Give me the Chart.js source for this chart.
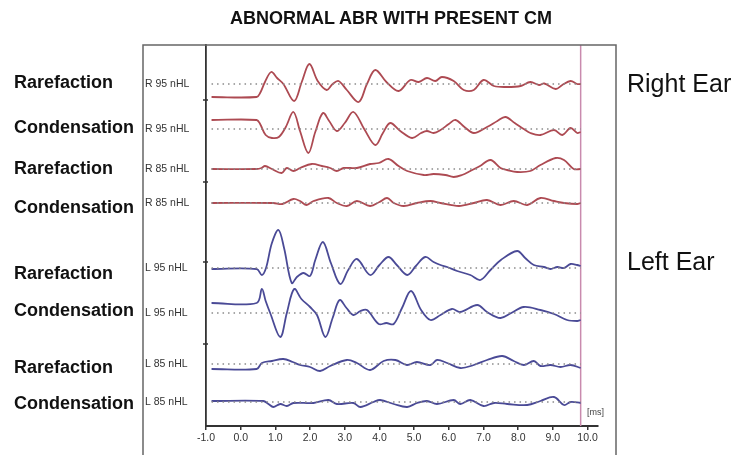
<!DOCTYPE html>
<html>
<head>
<meta charset="utf-8">
<script src="https://cdn.jsdelivr.net/npm/chart.js@4.4.0/dist/chart.umd.min.js"></script>
<style>
body { margin: 0; background: #fff; }
#wrap { position: relative; width: 753px; height: 455px; font-family: 'Liberation Sans', Arial, sans-serif; }
#abr { position: absolute; left: 0; top: 0; }
.txt { position: absolute; white-space: nowrap; color: #111; }
.side { left: 14px; font-size: 18px; font-weight: bold; line-height: 20px; }
.ear { left: 627px; font-size: 25px; line-height: 28px; }
</style>
</head>
<body>
<div id="wrap">
  <canvas id="abr" width="753" height="455"></canvas>
  <div class="txt" style="left:0;width:782px;top:8px;text-align:center;font-size:18px;font-weight:bold;line-height:20px;">ABNORMAL ABR WITH PRESENT CM</div>
  <div class="txt side" style="top:72px">Rarefaction</div>
  <div class="txt side" style="top:117px">Condensation</div>
  <div class="txt side" style="top:158px">Rarefaction</div>
  <div class="txt side" style="top:197px">Condensation</div>
  <div class="txt side" style="top:263px">Rarefaction</div>
  <div class="txt side" style="top:300px">Condensation</div>
  <div class="txt side" style="top:357px">Rarefaction</div>
  <div class="txt side" style="top:393px">Condensation</div>
  <div class="txt ear" style="top:69px">Right Ear</div>
  <div class="txt ear" style="top:247px">Left Ear</div>
  <div class="txt" style="left:587px;top:407px;font-size:9px;color:#444;">[ms]</div>
</div>
<script>
// Waveforms: [time ms, amplitude]
const rRare95 = [[-0.84,-13],[0.46,-13],[0.56,-9],[0.7,2],[0.88,12],[1.05,6],[1.23,0],[1.54,-17],[1.76,2],[1.98,20],[2.22,3],[2.48,-6],[2.65,0],[2.82,3],[3.06,-6],[3.4,-18],[3.64,0],[3.88,14],[4.2,2],[4.55,-7],[4.89,4],[5.13,2],[5.37,6],[5.61,3],[5.8,7],[6.14,3],[6.43,-6],[6.72,-6],[7.0,4],[7.3,-2],[7.68,-3],[8.07,-2],[8.35,2],[8.6,-1],[8.75,0.5],[9.08,-5],[9.27,-1],[9.51,3],[9.7,0],[9.8,0]];
const rCond95 = [[-0.84,9],[0.46,9],[0.56,5],[0.72,-6],[0.9,-9],[1.1,-8],[1.3,2],[1.52,17],[1.71,-2],[1.95,-24],[2.15,-3],[2.37,16],[2.55,8],[2.77,-2],[3.0,6],[3.25,17],[3.56,0],[3.88,-16],[4.1,-4],[4.31,6],[4.6,-2],[4.94,-9],[5.2,-4],[5.37,-2],[5.56,-4],[5.76,-1],[6.0,5],[6.19,9],[6.45,2],[6.72,-4],[7.1,2],[7.4,8],[7.63,12],[7.9,6],[8.16,0],[8.35,-4],[8.64,-6],[9.03,-1],[9.27,-6],[9.51,1],[9.7,-4],[9.8,-3]];
const rRare85 = [[-0.84,0],[0.46,0],[0.6,1],[0.7,3],[0.9,0],[1.18,-4],[1.33,1],[1.52,-2],[1.71,1],[2.05,5],[2.34,3],[2.58,1],[2.77,-2],[2.97,1],[3.35,1],[3.73,5],[3.98,6],[4.26,10],[4.55,3],[4.8,-2],[5.28,-6],[5.56,-5],[5.9,-6],[6.14,-8],[6.38,-6],[6.62,-2],[6.9,3],[7.2,9],[7.49,1],[7.68,-1],[7.97,-3],[8.35,-2],[8.64,4],[9.08,11],[9.32,9],[9.6,0],[9.8,0]];
const rCond85 = [[-0.84,0],[0.94,0],[1.2,-1],[1.52,4],[1.71,2],[1.9,-2],[2.1,2],[2.53,5],[2.77,0],[3.06,-3],[3.35,2],[3.73,-3],[4.0,1],[4.22,5],[4.41,0],[4.7,-3],[5.08,0],[5.47,2],[5.76,0],[6.29,-3],[6.72,0],[7.1,3],[7.49,-2],[7.87,2],[8.26,-2],[8.64,5],[9.03,2],[9.32,0],[9.7,-1],[9.8,0]];
const lRare95 = [[-0.84,-1],[0.46,-1],[0.61,-7],[0.73,0],[0.9,25],[1.09,38],[1.25,20],[1.47,-15],[1.62,-9],[1.81,-5],[2.0,-8],[2.15,8],[2.37,26],[2.6,5],[2.87,-16],[3.1,-2],[3.35,9],[3.73,-7],[4.0,3],[4.26,11],[4.5,3],[4.8,-7],[5.05,2],[5.32,11],[5.56,6],[5.76,3],[5.95,1],[6.24,-3],[6.62,-7],[6.91,-12],[7.2,-2],[7.5,8],[7.97,17],[8.2,10],[8.45,3],[8.74,1],[8.93,-1],[9.13,1],[9.32,0],[9.51,4],[9.7,3],[9.8,2]];
const lCond95 = [[-0.84,10],[0.46,10],[0.61,24],[0.72,12],[0.85,0],[1.14,-24],[1.33,0],[1.54,24],[1.75,14],[2.0,6],[2.2,-2],[2.44,-24],[2.65,-5],[2.85,13],[3.05,5],[3.25,-2],[3.45,2],[3.64,3],[3.98,-11],[4.2,-10],[4.41,-11],[4.65,5],[4.91,22],[5.2,3],[5.47,-7],[5.76,-2],[6.09,4],[6.33,1],[6.82,8],[7.1,1],[7.49,-5],[7.8,0],[8.16,6],[8.64,3],[9.03,-1],[9.41,-7],[9.7,-8],[9.8,-7]];
const lRare85 = [[-0.84,-5],[0.46,-5],[0.61,1],[0.9,3],[1.23,5],[1.5,2],[1.71,-1],[2.0,-3],[2.29,-7],[2.58,-2],[3.06,4],[3.35,1],[3.73,-6],[4.12,3],[4.46,4],[4.79,-1],[5.08,2],[5.47,-1],[5.66,4],[5.95,1],[6.33,-4],[6.72,-1],[7.1,4],[7.54,8],[7.87,3],[8.16,-1],[8.45,3],[8.64,-2],[8.93,-1],[9.22,-3],[9.51,-1],[9.8,-4]];
const lCond85 = [[-0.84,1],[0.65,1],[0.8,-2],[0.94,-5],[1.14,-2],[1.33,-4],[1.52,-1],[2.1,-1],[2.53,2],[2.77,-2],[3.25,-1],[3.45,-5],[3.83,0],[4.02,2],[4.41,-2],[4.8,-5],[5.08,-1],[5.37,1],[5.66,-2],[6.14,2],[6.33,-2],[6.62,2],[7.0,-4],[7.3,-1],[7.68,-2],[8.26,-3],[8.64,1],[9.03,5],[9.32,-3],[9.51,0],[9.8,-1]];

// Channels, top to bottom
const channelNames = ['R 95 nHL', 'R 95 nHL', 'R 85 nHL', 'R 85 nHL', 'L 95 nHL', 'L 95 nHL', 'L 85 nHL', 'L 85 nHL'];
const channelOffsets = [342, 297, 257, 223, 158, 113, 62, 24];
const channelWaves = [rRare95, rCond95, rRare85, rCond85, lRare95, lCond95, lRare85, lCond85];
const channelColors = ['#ad4a52', '#ad4a52', '#ad4a52', '#ad4a52', '#4a4a96', '#4a4a96', '#4a4a96', '#4a4a96'];

const xTicks = [-1, 0, 1, 2, 3, 4, 5, 6, 7, 8, 9, 10];
const yMarks = [82, 164, 244, 326];
const baselineSpan = [-0.84, 9.8];
const cursorMs = 9.8;

// Build datasets: dotted baselines first, then the traces
const datasets = [];
channelOffsets.forEach((off) => {
    datasets.push({
        data: baselineSpan.map(t => ({ x: t, y: off })),
        borderColor: '#8a8a8a',
        borderWidth: 1.5,
        borderDash: [1.5, 4],
        pointRadius: 0
    });
});
channelWaves.forEach((wave, i) => {
    datasets.push({
        data: wave.map(p => ({ x: p[0], y: channelOffsets[i] + p[1] })),
        borderColor: channelColors[i],
        borderWidth: 1.8,
        pointRadius: 0,
        tension: 0.35
    });
});
// Cursor line
datasets.push({
    data: [{ x: cursorMs, y: 0 }, { x: cursorMs, y: 381 }],
    borderColor: '#c98aae',
    borderWidth: 1.5,
    pointRadius: 0
});

// Outer frame and small marks on the left axis
const framePlugin = {
    id: 'frame',
    afterDraw(chart) {
        const ctx = chart.ctx;
        const area = chart.chartArea;
        const yScale = chart.scales.y;
        ctx.save();
        ctx.strokeStyle = '#666';
        ctx.lineWidth = 1.5;
        ctx.beginPath();
        ctx.moveTo(143, 455);
        ctx.lineTo(143, area.top);
        ctx.lineTo(616, area.top);
        ctx.lineTo(616, 455);
        ctx.stroke();
        ctx.strokeStyle = '#333';
        ctx.beginPath();
        yMarks.forEach(v => {
            const py = yScale.getPixelForValue(v);
            ctx.moveTo(area.left - 3, py);
            ctx.lineTo(area.left + 2, py);
        });
        ctx.stroke();
        ctx.restore();
    }
};

const chart = new Chart(document.getElementById('abr'), {
    type: 'line',
    data: { datasets: datasets },
    options: {
        responsive: false,
        animation: false,
        devicePixelRatio: 1,
        layout: { padding: { left: 145, right: 155, top: 45, bottom: 0 } },
        plugins: { legend: { display: false }, tooltip: { enabled: false } },
        scales: {
            x: {
                type: 'linear',
                min: -1,
                max: 10.3,
                afterBuildTicks: (s) => { s.ticks = xTicks.map(v => ({ value: v })); },
                afterFit: (s) => { s.height = 29; },
                ticks: {
                    color: '#333',
                    padding: 2,
                    maxRotation: 0,
                    font: { family: 'Liberation Sans', size: 10.5 },
                    callback: (v) => v.toFixed(1)
                },
                grid: { drawOnChartArea: false, tickLength: 4, color: '#333', lineWidth: 1.5 },
                border: { display: true, color: '#333', width: 2 }
            },
            y: {
                type: 'linear',
                min: 0,
                max: 381,
                afterBuildTicks: (s) => { s.ticks = channelOffsets.map(v => ({ value: v })); },
                afterFit: (s) => { s.width = 61; },
                ticks: {
                    color: '#333',
                    crossAlign: 'far',
                    font: { family: 'Liberation Sans', size: 10.5 },
                    callback: (v, i) => channelNames[i]
                },
                grid: { display: false },
                border: { display: true, color: '#333', width: 1.8 }
            }
        }
    },
    plugins: [framePlugin]
});
</script>
</body>
</html>
